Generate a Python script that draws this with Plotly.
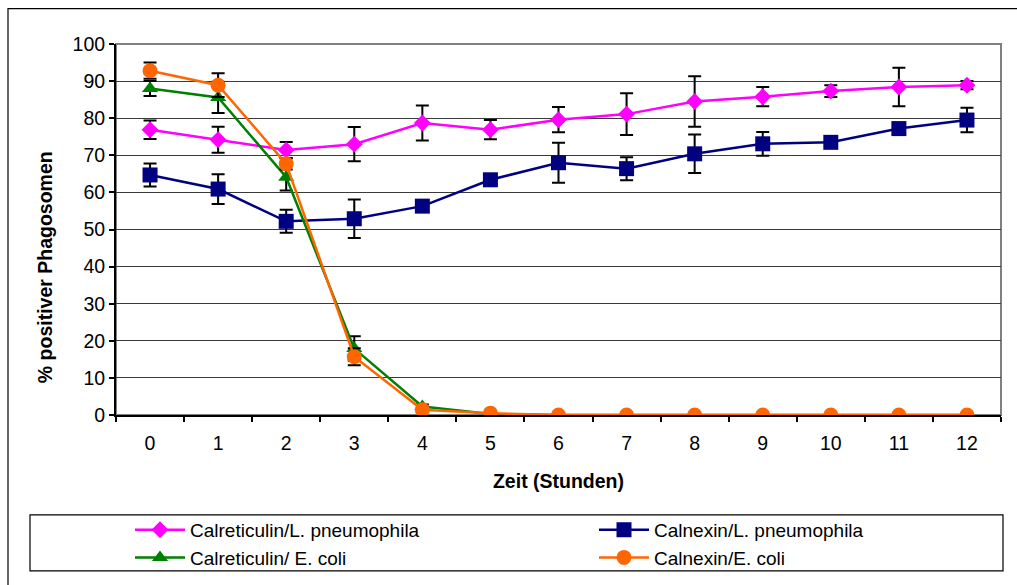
import plotly.graph_objects as go

hours = [str(h) for h in range(13)]

calret_lp = [76.9, 74.2, 71.4, 73.0, 78.7, 76.9, 79.6, 81.1, 84.5, 85.8, 87.3, 88.4, 88.9]
calret_lp_err = [2.5, 3.5, 2.2, 4.6, 4.7, 2.6, 3.4, 5.6, 6.8, 2.6, 1.6, 5.2, 1.1]
calnex_lp = [64.7, 60.9, 52.2, 52.9, 56.3, 63.4, 68.0, 66.4, 70.4, 73.1, 73.5, 77.2, 79.5]
calnex_lp_err = [3.1, 4.0, 3.1, 5.2, 1.5, 1.0, 5.4, 3.1, 5.2, 3.2, 1.0, 1.5, 3.3]
calret_ec = [88.0, 85.6, 64.1, 17.9, 2.3, 0.3, 0, 0, 0, 0, 0, 0, 0]
calret_ec_err = [2.0, 4.2, 3.6, 3.3, 0.5, 0, 0, 0, 0, 0, 0, 0, 0]
calnex_ec = [92.8, 88.9, 67.7, 15.7, 1.4, 0.5, 0, 0, 0, 0, 0, 0, 0]
calnex_ec_err = [2.2, 3.2, 1.5, 2.3, 0.5, 0, 0, 0, 0, 0, 0, 0, 0]

series = [
    ("Calreticulin/L. pneumophila", calret_lp, calret_lp_err, "#FF00FF", "diamond", 13, "legend"),
    ("Calnexin/L. pneumophila", calnex_lp, calnex_lp_err, "#000080", "square", 15, "legend2"),
    ("Calreticulin/ E. coli", calret_ec, calret_ec_err, "#008000", "triangle-up", 14, "legend"),
    ("Calnexin/E. coli", calnex_ec, calnex_ec_err, "#FF6600", "circle", 15, "legend2"),
]

fig = go.Figure()
for name, vals, err, col, sym, size, lg in series:
    fig.add_trace(go.Scatter(
        x=hours, y=vals, name=name, mode="lines+markers", legend=lg,
        line=dict(color=col, width=2.5),
        marker=dict(symbol=sym, size=size, color=col),
        error_y=dict(type="data", array=err, visible=True, color="black",
                     thickness=2, width=6.5),
    ))

font = "Liberation Sans, Arial, sans-serif"
fs = 19.5
L, R, T, B = 116, 16, 43.5, 170
W, H = 1017, 585
pw = W - L - R
ph = H - T - B

def px_x(p):
    return (p - L) / pw

def px_y(p):
    return (H - B - p) / ph

shapes = [
    # outer chart frame
    dict(type="rect", xref="paper", yref="paper", x0=px_x(8), x1=px_x(1030),
         y0=px_y(600), y1=px_y(8), line=dict(color="black", width=1.2), layer="below"),
    # plot area border (gray)
    dict(type="rect", xref="paper", yref="paper", x0=0, x1=1, y0=0, y1=1,
         line=dict(color="#808080", width=2), layer="below"),
    # legend box
    dict(type="rect", xref="paper", yref="paper", x0=px_x(30), x1=px_x(1003),
         y0=px_y(571), y1=px_y(515), line=dict(color="black", width=1.2), layer="below"),
]

legend_common = dict(orientation="v", xanchor="left", yanchor="top",
                     font=dict(size=19, family=font), bgcolor="rgba(0,0,0,0)",
                     itemwidth=50, borderwidth=0)

fig.update_layout(
    width=W, height=H,
    margin=dict(l=L, r=R, t=T, b=B, autoexpand=False),
    paper_bgcolor="white", plot_bgcolor="white",
    font=dict(family=font, size=fs, color="black"),
    shapes=shapes,
    showlegend=True,
    legend=dict(x=px_x(130), y=px_y(511), **legend_common),
    legend2=dict(x=px_x(594), y=px_y(511), **legend_common),
    annotations=[dict(text="<b>% positiver Phagosomen</b>", textangle=-90,
                      xref="paper", yref="paper", x=px_x(45), y=px_y(267),
                      xanchor="center", yanchor="middle", showarrow=False,
                      font=dict(size=fs, family=font))],
    xaxis=dict(type="category", tickson="boundaries", ticks="outside", ticklen=5,
               tickwidth=1.5, tickcolor="black", showline=True, linecolor="black",
               linewidth=2, showgrid=False, range=[-0.5, 12.5],
               tickfont=dict(size=fs), ticklabelstandoff=10,
               title=dict(text="<b>Zeit (Stunden)</b>", font=dict(size=fs), standoff=21)),
    yaxis=dict(range=[0, 100], dtick=10, ticks="outside", ticklen=5, tickwidth=1.5,
               tickcolor="black", showline=True, linecolor="black", linewidth=2,
               showgrid=True, gridcolor="#3a3a3a", gridwidth=1, zeroline=False,
               tickfont=dict(size=fs)),
)

fig.write_html("out.html")
